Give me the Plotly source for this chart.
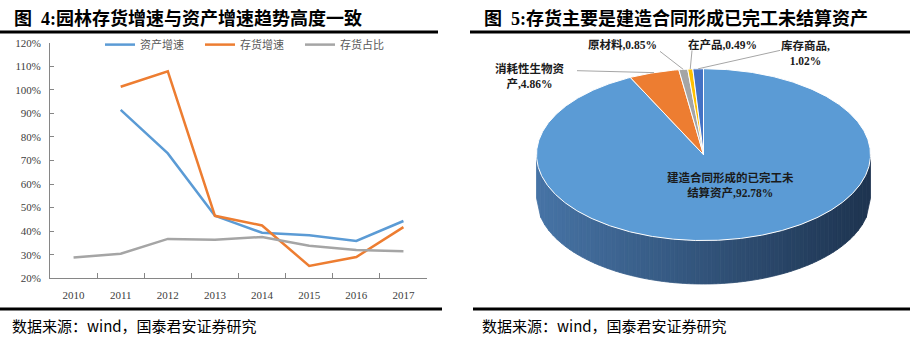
import numpy as np
import plotly.graph_objects as go

W, H = 910, 346

# ---- left panel: growth rates (%) ----
years = ['2010', '2011', '2012', '2013', '2014', '2015', '2016', '2017']
asset_growth = [None, 91.5, 73.0, 46.5, 39.3, 38.2, 35.8, 44.3]
inventory_growth = [None, 101.3, 107.8, 46.5, 42.4, 25.2, 29.0, 41.7]
inventory_share = [28.8, 30.4, 36.7, 36.3, 37.5, 33.8, 32.0, 31.5]
series_names = ['资产增速', '存货增速', '存货占比']
series_colors = ['#5B9BD5', '#ED7D31', '#A5A5A5']
y_ticks = list(range(20, 121, 10))

# ---- right panel: inventory composition (%) ----
pie_names = ['建造合同形成的已完工未结算资产', '消耗性生物资产', '原材料', '在产品', '库存商品']
pie_values = [92.78, 4.86, 0.85, 0.49, 1.02]
pie_colors = ['#5B9BD5', '#ED7D31', '#A5A5A5', '#FFC000', '#4472C4']
pie_label_text = ['建造合同形成的已完工未<br>结算资产,92.78%', '消耗性生物资<br>产,4.86%',
                  '原材料,0.85%', '在产品,0.49%', '库存商品,<br>1.02%']
pie_label_pos = [(730, 185), (529, 72), (622, 40), (722, 40), (805, 49)]
pie_leader_start = [None, (577, 67), (660, 47), (692, 46), (780, 46)]

CJK = 'Liberation Serif, Noto Sans CJK SC'


def px(x):
    return x / W


def py(y):
    return 1 - y / H


fig = go.Figure()

for name, vals, col in zip(series_names, [asset_growth, inventory_growth, inventory_share], series_colors):
    fig.add_trace(go.Scatter(x=years, y=vals, name=name, mode='lines',
                             line=dict(color=col, width=2.5), xaxis='x', yaxis='y'))

# 3D pie geometry (pixel space of the right panel)
cx, cy, rx, ry, depth = 703.5, 154, 167, 89, 45


def rim(theta_deg):
    t = np.radians(theta_deg)
    return cx + rx * np.sin(t), cy - ry * np.cos(t)


# side wall of the front half with a dark gradient
n_strips = 80
xs = np.linspace(cx - rx, cx + rx, n_strips + 1)
c0 = np.array([0x47, 0x74, 0xA6])
c1 = np.array([0x1E, 0x34, 0x50])
for i in range(n_strips):
    x0, x1 = xs[i], xs[i + 1]
    yt0 = cy + ry * np.sqrt(max(0.0, 1 - ((x0 - cx) / rx) ** 2))
    yt1 = cy + ry * np.sqrt(max(0.0, 1 - ((x1 - cx) / rx) ** 2))
    f = (i + 0.5) / n_strips
    c = c0 + (c1 - c0) * f
    col = 'rgb(%d,%d,%d)' % tuple(c.astype(int))
    fig.add_trace(go.Scatter(x=[x0, x1, x1, x0, x0], y=[yt0, yt1, yt1 + depth, yt0 + depth, yt0],
                             fill='toself', fillcolor=col, mode='lines',
                             line=dict(color=col, width=0.8), hoverinfo='skip',
                             showlegend=False, xaxis='x2', yaxis='y2'))

# top face slices, clockwise from 12 o'clock
start = 0.0
mids = []
for v, col in zip(pie_values, pie_colors):
    span = v / sum(pie_values) * 360
    th = np.linspace(start, start + span, max(3, int(span * 2)))
    ex, ey = rim(th)
    fig.add_trace(go.Scatter(x=np.concatenate([[cx], ex, [cx]]), y=np.concatenate([[cy], ey, [cy]]),
                             fill='toself', fillcolor=col, mode='lines',
                             line=dict(color='white', width=1), hoverinfo='skip',
                             showlegend=False, xaxis='x2', yaxis='y2'))
    mids.append(start + span / 2)
    start += span

# leader lines
for s, m in zip(pie_leader_start, mids):
    if s is None:
        continue
    ex, ey = rim(m)
    fig.add_trace(go.Scatter(x=[s[0], ex], y=[s[1], ey], mode='lines',
                             line=dict(color='#A6A6A6', width=1), hoverinfo='skip',
                             showlegend=False, xaxis='x2', yaxis='y2'))

annotations = []
for t, (lx, ly) in zip(pie_label_text, pie_label_pos):
    annotations.append(dict(x=lx, y=ly, xref='x2', yref='y2', text='<b>%s</b>' % t, showarrow=False,
                            font=dict(family=CJK, size=11.5, color='#1A1A1A'), align='center'))

# panel titles and sources
annotations += [
    dict(x=px(12), y=py(13), xref='paper', yref='paper', xanchor='left', yanchor='middle', showarrow=False,
         text='<b>图  4:园林存货增速与资产增速趋势高度一致</b>', font=dict(family=CJK, size=18, color='#000')),
    dict(x=px(482), y=py(13), xref='paper', yref='paper', xanchor='left', yanchor='middle', showarrow=False,
         text='<b>图  5:存货主要是建造合同形成已完工未结算资产</b>', font=dict(family=CJK, size=18, color='#000')),
    dict(x=px(10), y=py(331), xref='paper', yref='paper', xanchor='left', yanchor='middle', showarrow=False,
         text='数据来源：wind，国泰君安证券研究', font=dict(family='Noto Sans CJK SC', size=15, color='#000')),
    dict(x=px(480), y=py(331), xref='paper', yref='paper', xanchor='left', yanchor='middle', showarrow=False,
         text='数据来源：wind，国泰君安证券研究', font=dict(family='Noto Sans CJK SC', size=15, color='#000')),
]

shapes = [
    dict(type='line', xref='paper', yref='paper', x0=0, x1=px(438), y0=py(27), y1=py(27),
         line=dict(color='#000', width=3)),
    dict(type='line', xref='paper', yref='paper', x0=px(470), x1=1, y0=py(27), y1=py(27),
         line=dict(color='#000', width=3)),
    dict(type='line', xref='paper', yref='paper', x0=0, x1=px(442), y0=py(314), y1=py(314),
         line=dict(color='#000', width=3)),
    dict(type='line', xref='paper', yref='paper', x0=px(473), x1=1, y0=py(314), y1=py(314),
         line=dict(color='#000', width=3)),
]

fig.update_layout(
    width=W, height=H, margin=dict(l=0, r=0, t=0, b=0),
    paper_bgcolor='white', plot_bgcolor='white',
    showlegend=True,
    legend=dict(orientation='h', x=px(100), y=py(40), xanchor='left', yanchor='middle',
                font=dict(family='Noto Sans CJK SC', size=11, color='#595959'),
                bgcolor='rgba(0,0,0,0)', entrywidth=55, entrywidthmode='pixels',
                itemwidth=30, tracegroupgap=0),
    xaxis=dict(domain=[px(50), px(427)], anchor='y', type='category', categoryarray=years,
               range=[-0.5, 7.5], showline=True, linecolor='#868686', linewidth=1,
               ticks='inside', tickson='boundaries', ticklen=5, tickcolor='#868686',
               showgrid=False, zeroline=False, ticklabelstandoff=7,
               tickfont=dict(family='Liberation Serif', size=11, color='#404040')),
    yaxis=dict(domain=[py(282), py(38)], anchor='x', range=[20, 120], tickvals=y_ticks,
               ticktext=['%d%%' % v for v in y_ticks], showline=True, linecolor='#868686',
               linewidth=1, ticks='inside', ticklen=4, tickcolor='#868686', showgrid=False,
               zeroline=False, ticklabelstandoff=6,
               tickfont=dict(family='Liberation Serif', size=11, color='#404040')),
    xaxis2=dict(domain=[0.5, 1], anchor='y2', range=[455, 910], visible=False),
    yaxis2=dict(domain=[0, 1], anchor='x2', range=[346, 0], visible=False),
    annotations=annotations, shapes=shapes,
)

fig.write_html('out.html')
